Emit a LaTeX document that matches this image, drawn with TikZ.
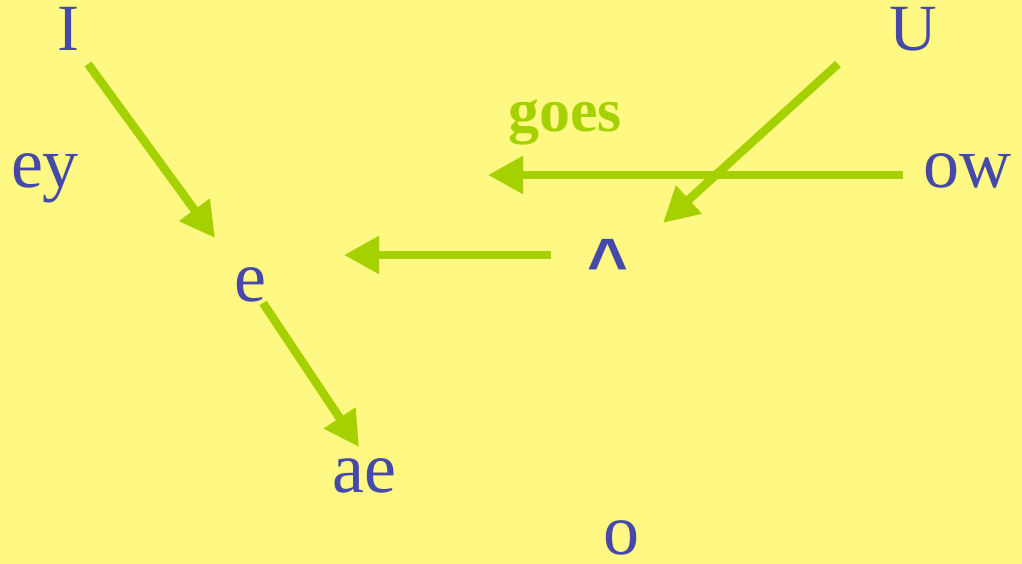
\documentclass[tikz,border=0pt]{standalone}
\usepackage{fontspec}
\setmainfont{Liberation Serif}
\newfontfamily\caretfont{Liberation Sans}
\usetikzlibrary{arrows.meta}
\definecolor{bgyellow}{HTML}{FFF882}
\definecolor{vowelblue}{HTML}{4549A9}
\definecolor{arrowgreen}{HTML}{A6D100}
\tikzset{
  vowel/.style={text=vowelblue, inner sep=0pt, anchor=base, font=\fontsize{72}{72}\selectfont},
  capvowel/.style={vowel, font=\fontsize{66}{66}\selectfont},
  shift arrow/.style={draw=arrowgreen, line width=8.5pt, -{Triangle[length=35pt,width=36pt]}},
  label text/.style={text=arrowgreen, inner sep=0pt, anchor=base, font=\fontsize{62}{62}\selectfont\bfseries}
}
\begin{document}
\begin{tikzpicture}[x=1pt,y=-1pt]
\fill[bgyellow] (0,0) rectangle (1022,564);
\useasboundingbox (0,0) rectangle (1022,564);
% vowels
\node[capvowel] (I) at (68,51) {I};
\node[capvowel] (U) at (913,51) {U};
\node[vowel] (ey) at (45,188) {ey};
\node[vowel] (ow) at (967,188) {ow};
\node[vowel] (e) at (250,301) {e};
\node[vowel] (ae) at (364,492) {ae};
\node[vowel, text depth=0pt] (o) at (621,554) {o};
\node[vowel, font=\fontsize{70}{70}\selectfont\caretfont\bfseries] (caret) at (608,287) {\textasciicircum};
\node[label text] (goes) at (565,132) {goes};
% connector end points
\coordinate (I-out) at (88,64);
\coordinate (e-in) at (215,238);
\coordinate (e-out) at (263,303);
\coordinate (ae-in) at (359,447);
\coordinate (U-out) at (838,64);
\coordinate (caret-in) at (663,223);
\coordinate (ow-out) at (903,175);
\coordinate (goes-end) at (488,175);
\coordinate (caret-out) at (551,255);
\coordinate (e-right) at (344,255);
% arrows
\draw[shift arrow] (I-out) -- (e-in);
\draw[shift arrow] (e-out) -- (ae-in);
\draw[shift arrow] (ow-out) -- (goes-end);
\draw[shift arrow] (U-out) -- (caret-in);
\draw[shift arrow] (caret-out) -- (e-right);
\end{tikzpicture}
\end{document}
